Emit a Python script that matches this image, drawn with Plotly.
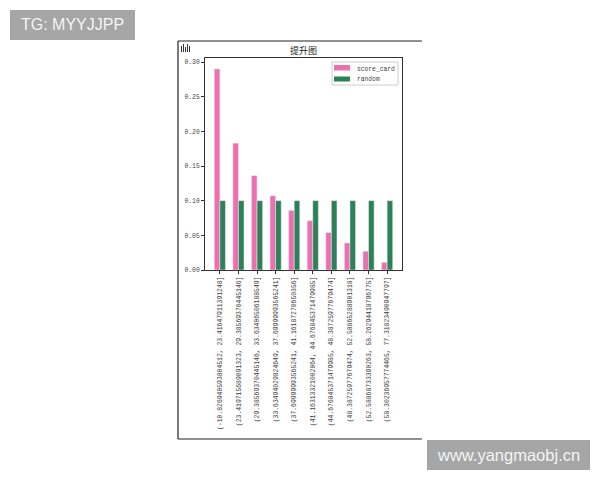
import plotly.graph_objects as go

categories = [
    '(-10.826940593804512, 23.41647911391248]',
    '(23.419715689091323, 29.38569370445146]',
    '(29.38569370445146, 33.63406506188549]',
    '(33.63494029824649, 37.69999993565241]',
    '(37.69999993565241, 41.16187270650356]',
    '(41.16313321002064, 44.676845371479985]',
    '(44.676845371479985, 48.38725977679474]',
    '(48.38725977679474, 52.58865288901318]',
    '(52.58868733390263, 58.26294418796775]',
    '(58.30236957774465, 77.31823490947797]',
]
score_card = [0.290, 0.183, 0.136, 0.107, 0.086, 0.071, 0.054, 0.039, 0.027, 0.011]
random_line = [0.10, 0.10, 0.10, 0.10, 0.10, 0.10, 0.10, 0.10, 0.10, 0.10]
y_ticks = [0.00, 0.05, 0.10, 0.15, 0.20, 0.25, 0.30]

PLOT_L, PLOT_R, PLOT_T, PLOT_B = 205, 402, 58, 270
MONO = 'Liberation Mono'
PINK = '#ee6fb0'
GREEN = '#2e8058'
TEXT = '#444444'


def px_x(x):
    return (x - PLOT_L) / (PLOT_R - PLOT_L)


def px_y(y):
    return (PLOT_B - y) / (PLOT_B - PLOT_T)


def add_box(fig, x0, y0, x1, y1, color, border=None):
    fig.add_shape(type='rect', xref='paper', yref='paper', layer='above',
                  x0=px_x(x0), x1=px_x(x1), y0=px_y(y0), y1=px_y(y1),
                  fillcolor=color, line=dict(width=1 if border else 0, color=border))


def add_frame_line(fig, x0, y0, x1, y1):
    fig.add_shape(type='line', xref='paper', yref='paper',
                  x0=px_x(x0), x1=px_x(x1), y0=px_y(y0), y1=px_y(y1),
                  line=dict(color='#222222', width=1.2))


def add_label(fig, x, y, label, font, anchor='center'):
    fig.add_annotation(xref='paper', yref='paper', showarrow=False, xanchor=anchor, yanchor='middle',
                       x=px_x(x), y=px_y(y), text=label, font=font, borderpad=0)


def add_watermark(fig, x0, y0, x1, y1, label, size):
    add_box(fig, x0, y0, x1, y1, '#a6a6a6')
    add_label(fig, (x0 + x1) / 2, (y0 + y1) / 2, label,
              dict(family='Liberation Sans', size=size, color='#f4f4f4'))


fig = go.Figure()
fig.add_trace(go.Bar(x=categories, y=score_card, name='score_card', marker_color=PINK))
fig.add_trace(go.Bar(x=categories, y=random_line, name='random', marker_color=GREEN))

fig.update_layout(
    width=600, height=480,
    margin=dict(l=PLOT_L, r=600 - PLOT_R, t=PLOT_T, b=480 - PLOT_B, pad=0),
    barmode='group', bargap=0.4, bargroupgap=0,
    paper_bgcolor='white', plot_bgcolor='white',
    showlegend=False,
    title=dict(text='提升图', x=0.5, xanchor='center', xref='paper', y=1 - 51 / 480, yanchor='middle',
               font=dict(family='Noto Sans CJK SC', size=9, color='#222222')),
)
fig.update_xaxes(range=[-0.8, 9.8], tickangle=-90, ticks='outside', ticklen=3, tickwidth=1,
                 tickcolor='#333333', showline=True, linecolor='#333333', linewidth=1, mirror=True,
                 showgrid=False, zeroline=False, tickfont=dict(family=MONO, size=6.4, color=TEXT))
fig.update_yaxes(range=[0, 0.3058], tickmode='array', tickvals=y_ticks, tickformat='.2f',
                 ticks='outside', ticklen=3, tickwidth=1, tickcolor='#333333',
                 showline=True, linecolor='#333333', linewidth=1, mirror=True,
                 showgrid=False, zeroline=False, tickfont=dict(family=MONO, size=6.4, color=TEXT))

# legend drawn by hand, plotly swatches are too big at this size
add_box(fig, 332, 62, 398, 85, 'white', border='#cccccc')
legend_font = dict(family=MONO, size=6.3, color=TEXT)
add_box(fig, 334, 65, 350, 70.5, PINK)
add_label(fig, 356, 69, fig.data[0].name, legend_font, anchor='left')
add_box(fig, 334, 76.5, 350, 81.5, GREEN)
add_label(fig, 356, 79.5, fig.data[1].name, legend_font, anchor='left')

# outer frame of the screenshot
add_frame_line(fig, 178, 41, 422, 41)
add_frame_line(fig, 178, 41, 178, 439)
add_frame_line(fig, 178, 439, 422, 439)

# small toolbar icon in the corner
for left, top in [(181, 46), (183, 44), (185, 47), (187, 44), (189, 46)]:
    add_box(fig, left, top, left + 1, 52, '#333333')

add_watermark(fig, 10, 10, 135, 40, 'TG: MYYJJPP', 16)
add_watermark(fig, 427, 440, 590, 470, 'www.yangmaobj.cn', 16.5)

fig.write_html("out.html", config=dict(displayModeBar=False),
               post_script="document.body.style.margin='0';window.dispatchEvent(new Event('resize'));")
